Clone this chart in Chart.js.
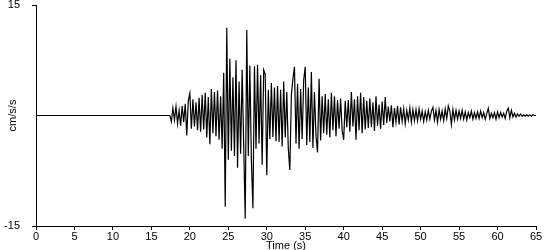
<!DOCTYPE html>
<html>
<head>
<meta charset="utf-8">
<script src="https://cdn.jsdelivr.net/npm/chart.js@4.4.1/dist/chart.umd.min.js"></script>
<style>
  html, body { margin: 0; padding: 0; background: #fff; }
  #wrap { width: 550px; height: 250px; }
</style>
</head>
<body>
<div id="wrap"><canvas id="accelChart"></canvas></div>
<script>
// Accelerogram, cm/s/s. Flat until shaking begins, then one sample every 0.2 s
const quietEnd = 17.4;
const sampleStep = 0.2;

// 17.4 - 23.2 s
const onsetAccel = [
    0.0, -0.8, 1.0, -0.6, 1.2, -1.1, 0.7, -1.4, 1.3, -0.9,
    1.6, -2.7, 2.0, 3.0, -1.8, 2.2, -1.5, 1.8, -2.0, 2.4,
    -2.2, 2.8, -1.9, 3.1, -3.0, 2.5, -3.9, 3.6, -2.4, 3.2
];

// 23.4 - 41.2 s
const strongAccel = [
    -2.8, 3.4, -3.3, 2.6, -4.5, 5.8, -12.4, 11.9, -6.0, 7.7,
    -4.8, 5.2, -5.5, 7.5, -7.1, 4.6, -5.2, 6.2, -4.0, -14.0,
    11.6, -5.5, 6.8, -6.0, -12.6, 6.7, -4.5, 6.9, -3.8, 5.5,
    -6.7, 6.2, 5.6, -8.1, 3.5, -3.2, 4.4, -2.9, 3.8, -3.5,
    4.0, -3.6, 3.5, -4.2, 4.6, -3.0, 3.2, -4.5, -7.4, 2.8,
    5.0, 6.6, -3.8, 4.3, -4.5, 3.6, -3.2, 4.8, 6.6, -4.0,
    3.8, -3.6, 5.9, -4.4, 3.2, -2.8, -5.0, 5.0, -3.4, 2.6,
    -2.4, 2.9, -2.6, 2.2, -3.0, 3.1, -2.0, 2.6, -2.8, 2.1,
    -1.8, 2.3, -2.0, -3.3, 2.0, -1.6, 2.1, -2.2, 3.2, -1.5
];

// 41.4 - 65.0 s
const codaAccel = [
    2.2, -3.3, 2.6, -2.0, 3.1, -2.4, 2.5, -1.9, 2.0, -1.7,
    2.3, -1.6, 1.8, -2.1, 2.6, -1.4, 1.5, -1.8, 1.9, -1.3,
    2.5, -1.0, 1.2, -0.8, 1.4, -1.6, 1.0, -0.9, 1.3, -1.2,
    1.1, -0.8, 0.9, -1.1, 0.7, -0.6, 1.0, -0.9, 0.8, -0.7,
    0.8, -0.7, 0.9, -0.5, 0.6, -0.8, 0.5, -0.6, 0.7, -0.5,
    0.6, 1.1, -0.6, 0.7, -0.9, 0.8, -0.5, 0.6, -0.7, 0.9,
    -0.4, 1.3, 0.6, -1.2, 0.8, -0.6, 0.7, -0.5, 0.6, -0.4,
    0.7, -0.5, 0.5, -0.6, 0.4, -0.3, 0.6, -0.5, 0.4, -0.4,
    0.5, -0.4, 0.6, -0.3, 0.4, -0.5, 0.3, 1.0, -0.4, 0.3,
    -0.3, 0.4, -0.5, 0.5, -0.3, 0.4, -0.2, 0.3, -0.4, 0.6,
    1.0, -0.3, 0.7, -0.2, 0.3, -0.2, 0.2, -0.1, 0.2, -0.1,
    0.1, -0.1, 0.1, -0.1, 0.1, -0.1, 0.1, 0.0, 0.0
];

const xTicks = [0, 5, 10, 15, 20, 25, 30, 35, 40, 45, 50, 55, 60, 65];
const yTicks = [-15, 15];

// flat pre-event trace, then the sampled record
const samples = onsetAccel.concat(strongAccel, codaAccel);
const points = [{ x: 0, y: 0 }];
samples.forEach((v, i) => {
    points.push({ x: quietEnd + i * sampleStep, y: v });
});

const font = { family: "'Liberation Sans', Arial, sans-serif", size: 11 };

new Chart(document.getElementById('accelChart'), {
    type: 'line',
    data: {
        datasets: [{
            data: points,
            borderColor: '#000',
            borderWidth: 1.2,
            pointRadius: 0,
            tension: 0,
            fill: false
        }]
    },
    options: {
        responsive: true,
        maintainAspectRatio: false,
        animation: false,
        events: [],
        layout: { padding: { top: 5, right: 14, left: 0, bottom: 0 } },
        plugins: {
            legend: { display: false },
            tooltip: { enabled: false }
        },
        scales: {
            x: {
                type: 'linear',
                min: 0,
                max: 65,
                afterBuildTicks: axis => { axis.ticks = xTicks.map(v => ({ value: v })); },
                afterFit: axis => { axis.height = 24; axis.paddingLeft = 0; axis.paddingRight = 0; },
                grid: { drawOnChartArea: false, drawTicks: true, tickLength: 4, color: '#000' },
                border: { color: '#000', width: 1 },
                ticks: { color: '#000', font: font, padding: 0, maxRotation: 0, autoSkip: false },
                title: {
                    display: true, text: 'Time (s)', color: '#000', padding: 0,
                    font: { family: font.family, size: 11, lineHeight: 0.8 }
                }
            },
            y: {
                min: -15,
                max: 15,
                afterBuildTicks: axis => { axis.ticks = yTicks.map(v => ({ value: v })); },
                afterFit: axis => { axis.width = 36; axis.paddingTop = 0; axis.paddingBottom = 0; },
                grid: { drawOnChartArea: false, drawTicks: true, tickLength: 4, color: '#000' },
                border: { color: '#000', width: 1 },
                ticks: { color: '#000', font: font, padding: 12 },
                title: { display: true, text: 'cm/s/s', color: '#000', font: font, padding: { top: 6, bottom: 0 } }
            }
        }
    }
});
</script>
</body>
</html>
